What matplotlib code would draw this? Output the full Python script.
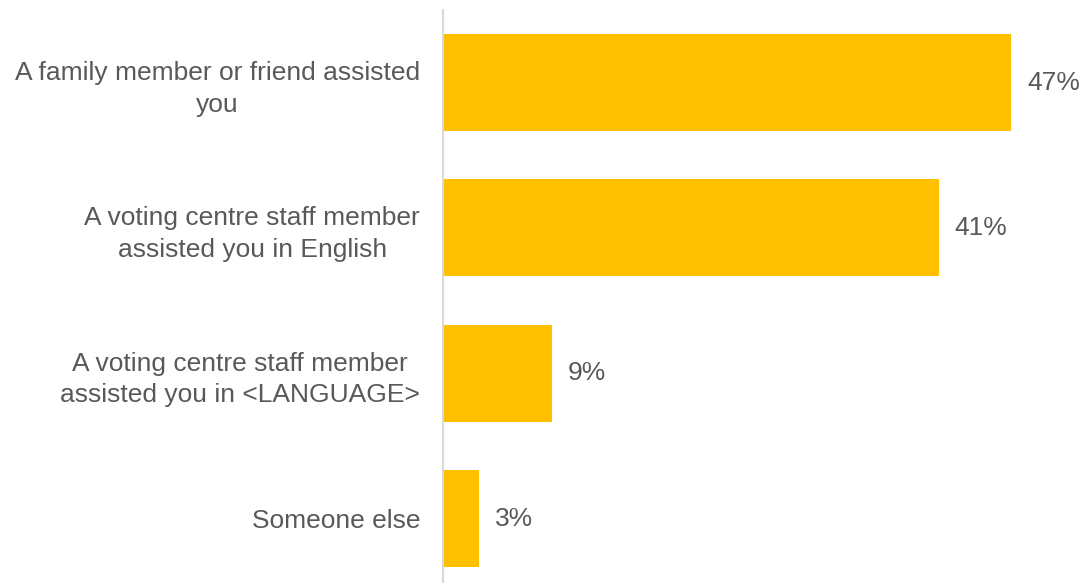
import matplotlib
matplotlib.use("Agg")
import matplotlib.pyplot as plt

categories = [
    "A family member or friend assisted\nyou",
    "A voting centre staff member\nassisted you in English",
    "A voting centre staff member\nassisted you in <LANGUAGE>",
    "Someone else",
]
values = [47, 41, 9, 3]
labels = ["47%", "41%", "9%", "3%"]

plt.rcParams['font.family'] = ['Liberation Sans', 'DejaVu Sans']

W, H = 1084, 583
fig = plt.figure(figsize=(W/100, H/100), dpi=100)
ax_left = 443 / W
ax_top_px = 10
unit_px = 145.3
ax_h_px = 4 * unit_px
ax_bottom = (H - ax_top_px - ax_h_px) / H
ax = fig.add_axes([ax_left, ax_bottom, (W - 443) / W, ax_h_px / H])

ypos = list(range(len(categories)))
ax.barh(ypos, values, height=0.667, color="#FFC000", zorder=2)
ax.set_xlim(0, 53)
ax.set_ylim(3.5, -0.5)

for y, v, lab in zip(ypos, values, labels):
    ax.annotate(lab, (v, y), xytext=(16, 0), textcoords="offset pixels",
                ha="left", va="center", fontsize=19, color="#595959")

ax.set_yticks(ypos)
ax.set_yticklabels(categories, fontsize=19, color="#595959", ha="right",
                   multialignment="center", linespacing=1.4)
ax.tick_params(axis="y", length=0, pad=16.5)
ax.set_xticks([])
for s in ["top", "right", "bottom"]:
    ax.spines[s].set_visible(False)
ax.spines["left"].set_color("#D9D9D9")
ax.spines["left"].set_linewidth(1.5)

fig.savefig("out.png", dpi=100)
